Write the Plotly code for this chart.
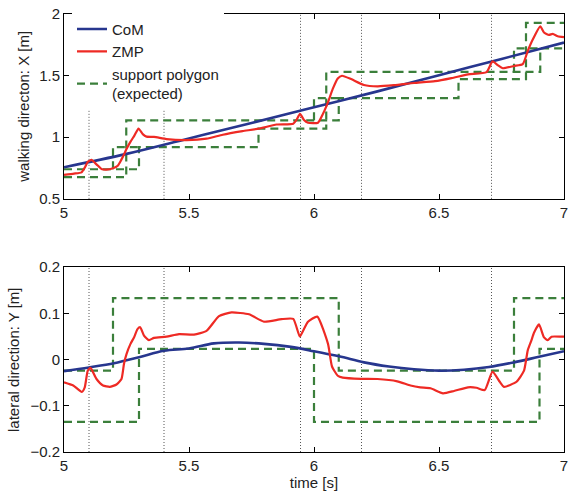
import plotly.graph_objects as go

# ---------------- data ----------------
# walking direction X
com_x_t = [5.0, 5.25, 5.5, 5.75, 6.0, 6.25, 6.5, 6.75, 7.0]
com_x_v = [0.756, 0.865, 0.99, 1.115, 1.243, 1.37, 1.503, 1.635, 1.768]

zmp_x_t = [5.00, 5.04, 5.07, 5.085, 5.095, 5.11, 5.13, 5.15, 5.17, 5.196, 5.215, 5.229,
           5.24, 5.249, 5.265, 5.282, 5.298, 5.315, 5.33, 5.36, 5.41, 5.49, 5.57, 5.635,
           5.714, 5.78, 5.85, 5.917, 5.93, 5.944, 5.96, 5.976, 6.016, 6.036, 6.056, 6.075,
           6.095, 6.112, 6.148, 6.2, 6.254, 6.32, 6.4, 6.484, 6.55, 6.616, 6.69, 6.714,
           6.735, 6.755, 6.80, 6.835, 6.855, 6.875, 6.905, 6.92, 6.94, 6.955, 6.975, 7.00]
zmp_x_v = [0.695, 0.705, 0.715, 0.76, 0.80, 0.816, 0.78, 0.742, 0.737, 0.748, 0.768, 0.816,
           0.86, 0.90, 0.96, 1.015, 1.07, 1.025, 1.005, 1.003, 0.985, 0.977, 0.988, 1.02,
           1.049, 1.07, 1.103, 1.11, 1.14, 1.19, 1.14, 1.118, 1.118, 1.19, 1.285, 1.392,
           1.477, 1.499, 1.472, 1.424, 1.413, 1.422, 1.44, 1.455, 1.48, 1.51, 1.528, 1.615,
           1.585, 1.56, 1.578, 1.593, 1.70, 1.793, 1.90, 1.85, 1.83, 1.839, 1.82, 1.813]

# support polygon (expected) in X: step outlines (vertices)
spx_a_t = [5.0, 5.249, 5.249, 6.099, 6.099, 6.578, 6.578, 6.848, 6.848, 7.0]
spx_a_v = [0.676, 0.676, 1.137, 1.137, 1.317, 1.317, 1.472, 1.472, 1.928, 1.928]
spx_b_t = [5.0, 5.30, 5.30, 5.778, 5.778, 6.049, 6.049, 6.905, 6.905, 7.0]
spx_b_v = [0.74, 0.74, 0.92, 0.92, 1.07, 1.07, 1.531, 1.531, 1.721, 1.721]
spx_c_t = [5.196, 5.196, 5.30, None, 6.0, 6.0, 6.099, None, 6.80, 6.80, 6.905]
spx_c_v = [0.74, 0.92, 0.92, None, 1.137, 1.317, 1.317, None, 1.531, 1.721, 1.721]

# lateral direction Y
com_y_t = [5.0, 5.1, 5.2, 5.3, 5.4, 5.5, 5.6, 5.7, 5.8, 5.9, 6.0, 6.1, 6.2, 6.3, 6.4,
           6.5, 6.6, 6.7, 6.8, 6.9, 7.0]
com_y_v = [-0.025, -0.017, -0.008, 0.005, 0.019, 0.024, 0.035, 0.037, 0.034, 0.028, 0.018,
           0.007, -0.006, -0.015, -0.021, -0.024, -0.022, -0.016, -0.006, 0.006, 0.018]

zmp_y_t = [5.00, 5.037, 5.071, 5.083, 5.095, 5.106, 5.13, 5.156, 5.183, 5.21, 5.23, 5.24,
           5.25, 5.266, 5.28, 5.294, 5.305, 5.32, 5.34, 5.36, 5.41, 5.46, 5.52, 5.57, 5.62,
           5.67, 5.74, 5.80, 5.87, 5.917, 5.943, 5.956, 5.976, 6.013, 6.056, 6.072, 6.095,
           6.115, 6.188, 6.254, 6.333, 6.386, 6.425, 6.466, 6.516, 6.56, 6.616, 6.65, 6.683,
           6.714, 6.743, 6.76, 6.81, 6.84, 6.855, 6.87, 6.88, 6.90, 6.92, 6.935, 6.95, 6.99,
           7.00]
zmp_y_v = [-0.049, -0.056, -0.070, -0.060, -0.024, -0.018, -0.042, -0.056, -0.059, -0.054,
           -0.042, -0.009, 0.012, 0.034, 0.048, 0.066, 0.070, 0.052, 0.042, 0.047, 0.0495,
           0.055, 0.054, 0.062, 0.094, 0.102, 0.098, 0.082, 0.0875, 0.088, 0.050, 0.062,
           0.082, 0.093, 0.034, -0.015, -0.035, -0.039, -0.0416, -0.042, -0.047, -0.056,
           -0.060, -0.062, -0.073, -0.068, -0.060, -0.061, -0.066, -0.026, -0.048, -0.059,
           -0.048, -0.024, 0.020, 0.042, 0.058, 0.076, 0.048, 0.042, 0.0495, 0.0495, 0.0495]

spy_a_t = [5.0, 5.196, 5.196, 6.099, 6.099, 6.80, 6.80, 7.0]
spy_a_v = [-0.024, -0.024, 0.133, 0.133, -0.024, -0.024, 0.133, 0.133]
spy_b_t = [5.0, 5.30, 5.30, 6.0, 6.0, 6.902, 6.902, 7.0]
spy_b_v = [-0.135, -0.135, 0.023, 0.023, -0.135, -0.135, 0.023, 0.023]

event_t = [5.1, 5.4, 5.946, 6.19, 6.71]

x_ticks = [5, 5.5, 6, 6.5, 7]
x_tick_text = ["5", "5.5", "6", "6.5", "7"]
yx_ticks = [0.5, 1, 1.5, 2]
yx_tick_text = ["0.5", "1", "1.5", "2"]
yy_ticks = [-0.2, -0.1, 0, 0.1, 0.2]
yy_tick_text = ["\u22120.2", "\u22120.1", "0", "0.1", "0.2"]

# ---------------- style ----------------
BLUE = "#27368E"
RED = "#EE2A24"
GREEN = "#3B7F3B"
DASH = "8px,5px"
FONT = "Liberation Sans"
TXT = "#222222"

fig = go.Figure()

def add_panel(xa, ya, com_t, com_v, zmp_t, zmp_v, sp_lines, legend):
    for i, (st, sv) in enumerate(sp_lines):
        fig.add_trace(go.Scatter(x=st, y=sv, mode="lines", xaxis=xa, yaxis=ya,
                                 line=dict(color=GREEN, width=2.2, dash=DASH),
                                 name="support polygon<br>(expected)",
                                 showlegend=(legend and i == 0), legendrank=3,
                                 connectgaps=False))
    fig.add_trace(go.Scatter(x=com_t, y=com_v, mode="lines", xaxis=xa, yaxis=ya,
                             line=dict(color=BLUE, width=2.6, shape="spline"),
                             name="CoM", showlegend=legend, legendrank=1))
    fig.add_trace(go.Scatter(x=zmp_t, y=zmp_v, mode="lines", xaxis=xa, yaxis=ya,
                             line=dict(color=RED, width=2.2, shape="spline", smoothing=0.5),
                             name="ZMP", showlegend=legend, legendrank=2))

add_panel("x", "y", com_x_t, com_x_v, zmp_x_t, zmp_x_v,
          [(spx_a_t, spx_a_v), (spx_b_t, spx_b_v), (spx_c_t, spx_c_v)], True)
add_panel("x2", "y2", com_y_t, com_y_v, zmp_y_t, zmp_y_v,
          [(spy_a_t, spy_a_v), (spy_b_t, spy_b_v)], False)

for xr, yr in (("x", "y domain"), ("x2", "y2 domain")):
    for t in event_t:
        fig.add_shape(type="line", xref=xr, yref=yr, x0=t, x1=t, y0=0, y1=1,
                      line=dict(color="#555555", width=1, dash="1px,2px"), layer="below")

axis_common = dict(showline=True, linecolor="black", linewidth=1, mirror="ticks",
                   ticks="inside", ticklen=5, tickcolor="black", showgrid=False,
                   zeroline=False, tickfont=dict(size=15, color=TXT))

# axis titles placed as annotations (paper coords)
fig.add_annotation(text="walking directon: X [m]", xref="paper", yref="paper",
                   x=(23 - 64) / 504, y=(1 + 0.578) / 2, textangle=-90, showarrow=False,
                   xanchor="center", yanchor="middle", font=dict(size=15, color=TXT))
fig.add_annotation(text="lateral direction: Y [m]", xref="paper", yref="paper",
                   x=(13 - 64) / 504, y=0.422 / 2, textangle=-90, showarrow=False,
                   xanchor="center", yanchor="middle", font=dict(size=15, color=TXT))

fig.update_layout(
    width=573, height=493,
    margin=dict(l=64, r=5, t=11, b=41),
    paper_bgcolor="white", plot_bgcolor="white",
    font=dict(family=FONT, size=15, color=TXT),
    showlegend=True,
    legend=dict(x=0.016, y=1.003, xanchor="left", yanchor="top", bgcolor="white",
                borderwidth=0, font=dict(size=15), tracegroupgap=0),
    xaxis=dict(domain=[0, 1], range=[5, 7], tickvals=x_ticks, ticktext=x_tick_text,
               anchor="y", **axis_common),
    yaxis=dict(domain=[0.578, 1], range=[0.5, 2], tickvals=yx_ticks, ticktext=yx_tick_text,
               anchor="x", **axis_common),
    xaxis2=dict(domain=[0, 1], range=[5, 7], tickvals=x_ticks, ticktext=x_tick_text,
                anchor="y2", title=dict(text="time [s]", font=dict(size=15), standoff=2),
                **axis_common),
    yaxis2=dict(domain=[0, 0.422], range=[-0.2, 0.2], tickvals=yy_ticks,
                ticktext=yy_tick_text, anchor="x2", **axis_common),
)

fig.write_html("out.html")
